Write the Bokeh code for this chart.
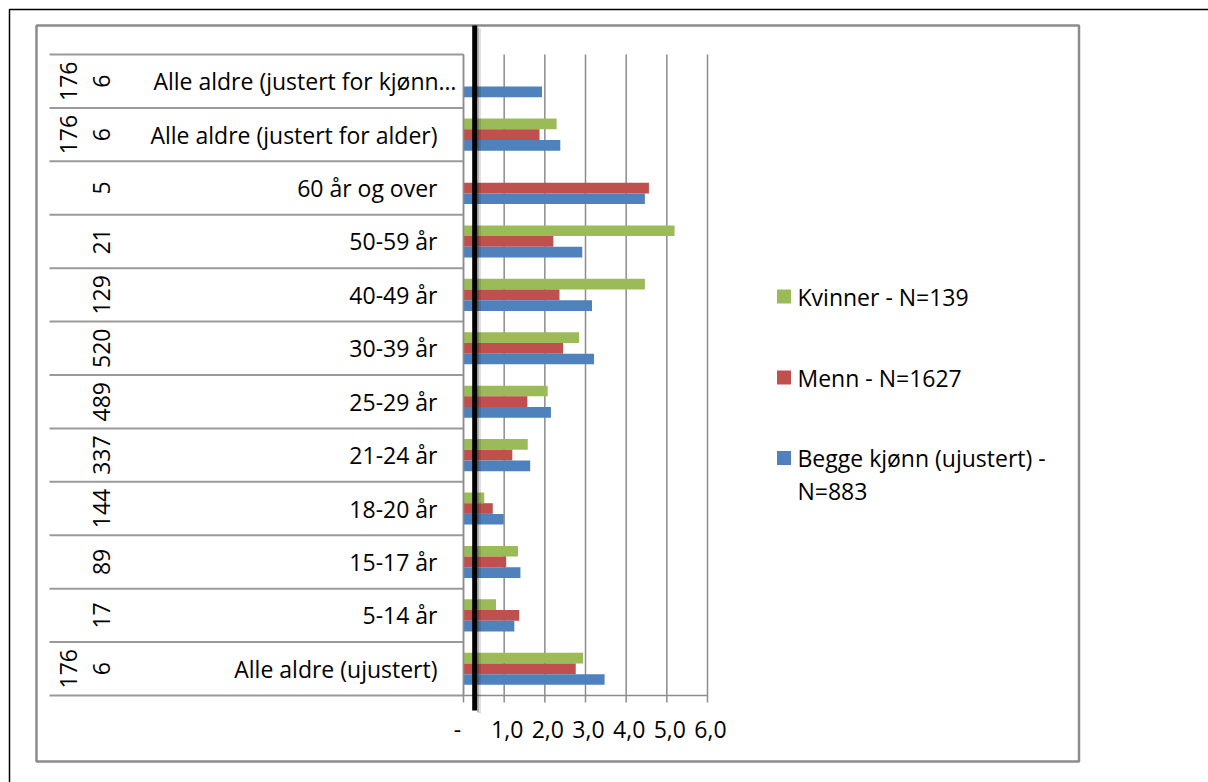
import math
from bokeh.plotting import figure
from bokeh.models import Range1d, ColumnDataSource
from bokeh.core.properties import value
from bokeh.embed import file_html
from bokeh.resources import INLINE

# ---------------- data (bottom -> top, as drawn) ----------------
categories = ["Alle aldre (ujustert)", "5-14 år", "15-17 år", "18-20 år", "21-24 år",
              "25-29 år", "30-39 år", "40-49 år", "50-59 år", "60 år og over",
              "Alle aldre (justert for alder)", "Alle aldre (justert for kjønn…"]
counts = ["6", "17", "89", "144", "337", "489", "520", "129", "21", "5", "6", "6"]
groups = ["176", "", "", "", "", "", "", "", "", "", "176", "176"]
NaN = float("nan")
kvinner = [2.94, 0.80, 1.34, 0.51, 1.58, 2.07, 2.84, 4.46, 5.19, NaN, 2.29, NaN]
menn = [2.76, 1.37, 1.05, 0.72, 1.20, 1.57, 2.45, 2.36, 2.21, 4.56, 1.87, NaN]
begge = [3.47, 1.25, 1.40, 0.99, 1.64, 2.15, 3.21, 3.16, 2.92, 4.46, 2.38, 1.93]
series_names = ["Kvinner - N=139", "Menn - N=1627", "Begge kjønn (ujustert) -\nN=883"]
x_ticks = [0, 1, 2, 3, 4, 5, 6]
x_tick_labels = ["-", "1,0", "2,0", "3,0", "4,0", "5,0", "6,0"]

# ---------------- style ----------------
FONT = value("Open Sans")
FS = value("23px")
GREEN, RED, BLUE = "#9BBB59", "#C0504D", "#4F81BD"
GRID = "#8c8c8c"
SEP = "#9a9a9a"

# layout: page pixel positions of the plotting area (canvas == page, body margin 0)
W, H = 1208, 782
FL, FR, FT, FB = 463, 707, 54, 695
n = len(categories)
XMAX = x_ticks[-1]
label_right_px = [437] * (n - 1) + [456]       # truncated top label sits further right
tick_label_offsets = [-6, 3, 3, 3, 3, 3, 3]    # pixel nudges of the value-axis labels


def dx(px):
    return (px - FL) / (FR - FL) * XMAX


def dy(py):
    return (FB - py) / (FB - FT) * n


p = figure(width=W, height=H, x_range=Range1d(dx(0), dx(W)), y_range=Range1d(dy(H), dy(0)),
           output_backend="svg", toolbar_location=None,
           x_axis_location=None, y_axis_location=None, min_border=0)
p.outline_line_color = None
p.grid.visible = False
p.background_fill_color = "white"
p.border_fill_color = "white"

# outer page frame and chart frame
p.quad(left=dx(9), right=dx(1600), top=dy(9), bottom=dy(1200), fill_color=None,
       line_color="black", line_width=1.5)
p.quad(left=dx(36), right=dx(1078.5), top=dy(25), bottom=dy(761), fill_color=None,
       line_color=GRID, line_width=2.5)

# vertical gridlines (extend below the axis as tick marks)
p.segment(x0=x_ticks, y0=[dy(702)] * len(x_ticks), x1=x_ticks, y1=[n] * len(x_ticks),
          line_color=GRID, line_width=1.5)
# horizontal x axis line
p.segment(x0=[0], y0=[0], x1=[XMAX], y1=[0], line_color=GRID, line_width=1.5)
# category separators of the axis table
bounds = list(range(n + 1))
p.segment(x0=[dx(49)] * len(bounds), y0=bounds, x1=[0] * len(bounds), y1=bounds,
          line_color=SEP, line_width=2)

# bars
ys = [i + 0.5 for i in range(n)]
src = ColumnDataSource(dict(yk=[y + 0.2 for y in ys], ym=ys, yb=[y - 0.2 for y in ys],
                            k=kvinner, m=menn, b=begge))
p.hbar(y="yk", left=0, right="k", height=0.2, fill_color=GREEN, line_color=None, source=src)
p.hbar(y="ym", left=0, right="m", height=0.2, fill_color=RED, line_color=None, source=src)
p.hbar(y="yb", left=0, right="b", height=0.2, fill_color=BLUE, line_color=None, source=src)

# category axis: labels, counts, group numbers
p.text(x=[dx(v) for v in label_right_px], y=ys, text=categories, text_align="right",
       text_baseline="middle", text_font=FONT, text_font_size=FS, text_color="black")
p.text(x=[dx(101)] * n, y=ys, text=counts, angle=math.pi / 2, text_align="center",
       text_baseline="middle", text_font=FONT, text_font_size=FS, text_color="black")
gy = [y for y, g in zip(ys, groups) if g]
gt = [g for g in groups if g]
p.text(x=[dx(68)] * len(gy), y=gy, text=gt, angle=math.pi / 2, text_align="center",
       text_baseline="middle", text_font=FONT, text_font_size=FS, text_color="black")

# value axis tick labels
p.text(x=x_ticks, y=[dy(729)] * len(x_ticks), text=x_tick_labels, x_offset=tick_label_offsets,
       text_align="center", text_baseline="middle", text_font=FONT, text_font_size=FS,
       text_color="black")

# y axis line and thick black marker line (with soft shadow)
p.segment(x0=[0], y0=[0], x1=[0], y1=[n], line_color=GRID, line_width=1.5)
p.quad(left=dx(476.7), right=dx(478.5), top=dy(27), bottom=dy(712), fill_color="black",
       fill_alpha=0.3, line_color=None)
p.quad(left=dx(478.5), right=dx(480.5), top=dy(28), bottom=dy(713), fill_color="black",
       fill_alpha=0.12, line_color=None)
p.quad(left=dx(471.7), right=dx(476.7), top=dy(25), bottom=dy(710), fill_color="black",
       line_color=None)

# legend (order as in reference)
leg_colors = [GREEN, RED, BLUE]
leg_py = [296, 377, 457.5]
p.quad(left=[dx(776.5)] * 3, right=[dx(790.5)] * 3,
       top=[dy(v - 7) for v in leg_py], bottom=[dy(v + 7) for v in leg_py],
       fill_color=leg_colors, line_color=None)
lx, ly, lt = [], [], []
for name, v in zip(series_names, leg_py):
    for j, line in enumerate(name.split("\n")):
        lx.append(dx(797))
        ly.append(dy(v + 32.5 * j))
        lt.append(line)
p.text(x=lx, y=ly, text=lt, text_align="left", text_baseline="middle",
       text_font=FONT, text_font_size=FS, text_color="black")

open("out.html", "w").write(file_html(p, INLINE))
